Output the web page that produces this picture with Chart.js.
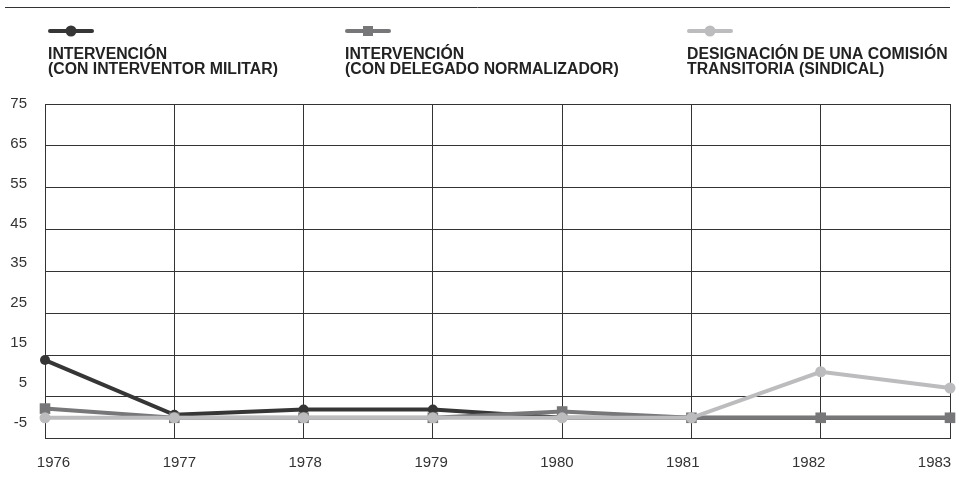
<!DOCTYPE html>
<html>
<head>
<meta charset="utf-8">
<script src="https://cdn.jsdelivr.net/npm/chart.js@4.4.1/dist/chart.umd.min.js"></script>
<style>
  html, body { margin: 0; padding: 0; background: #fff; }
  #wrap { position: relative; width: 959px; height: 486px; }
</style>
</head>
<body>
<div id="wrap"><canvas id="chart"></canvas></div>
<script>
const years = ['1976', '1977', '1978', '1979', '1980', '1981', '1982', '1983'];
const militar = [13.8, 0.7, 2, 2, 0, 0, 0, 0];
const normalizador = [2.2, 0, 0, 0, 1.5, 0, 0, 0];
const comision = [0, 0, 0, 0, 0, 0, 11, 7.1];
const yTicks = [-5, 5, 15, 25, 35, 45, 55, 65, 75];
const legendLines = [
  ['INTERVENCIÓN', '(CON INTERVENTOR MILITAR)'],
  ['INTERVENCIÓN', '(CON DELEGADO NORMALIZADOR)'],
  ['DESIGNACIÓN DE UNA COMISIÓN', 'TRANSITORIA (SINDICAL)']
];

const FONT = '"Liberation Sans", Arial, Helvetica, sans-serif';
const gridColor = '#333';

// legend drawn by hand: line + marker, two bold lines of text under it
const headerPlugin = {
  id: 'header',
  afterDraw(chart) {
    const ctx = chart.ctx;
    const xs = [48, 345, 687];
    ctx.save();
    ctx.strokeStyle = '#333';
    ctx.lineWidth = 1;
    ctx.beginPath();
    ctx.moveTo(5, 7.5);
    ctx.lineTo(950, 7.5);
    ctx.stroke();

    chart.data.datasets.forEach((ds, i) => {
      const x = xs[i];
      ctx.strokeStyle = ds.borderColor;
      ctx.fillStyle = ds.borderColor;
      ctx.lineWidth = 4;
      ctx.lineCap = 'round';
      ctx.beginPath();
      ctx.moveTo(x + 2, 31);
      ctx.lineTo(x + 44, 31);
      ctx.stroke();
      if (ds.pointStyle === 'rect') {
        ctx.fillRect(x + 18, 26, 10, 10);
      } else {
        ctx.beginPath();
        ctx.arc(x + 23, 31, 5.5, 0, Math.PI * 2);
        ctx.fill();
      }
      ctx.fillStyle = '#222';
      ctx.font = 'bold 15.8px ' + FONT;
      ctx.textBaseline = 'alphabetic';
      ctx.fillText(legendLines[i][0], x, 59);
      ctx.fillText(legendLines[i][1], x, 73.5);
    });
    ctx.restore();
  }
};

const ctx = document.getElementById('chart').getContext('2d');
new Chart(ctx, {
  type: 'line',
  data: {
    labels: years,
    datasets: [
      {
        label: legendLines[0].join(' '),
        data: militar,
        borderColor: '#363636',
        backgroundColor: '#363636',
        pointStyle: 'circle',
        pointRadius: 5,
        order: 3
      },
      {
        label: legendLines[1].join(' '),
        data: normalizador,
        borderColor: '#77777a',
        backgroundColor: '#77777a',
        pointStyle: 'rect',
        pointRadius: 7.5,
        order: 2
      },
      {
        label: legendLines[2].join(' '),
        data: comision,
        borderColor: '#bcbcbf',
        backgroundColor: '#bcbcbf',
        pointStyle: 'circle',
        pointRadius: 5.5,
        order: 1
      }
    ].map(d => Object.assign(d, {
      xAxisID: 'x',
      yAxisID: 'y',
      borderWidth: 4,
      tension: 0,
      fill: false,
      clip: false,
      pointBorderWidth: 0,
      pointHoverRadius: d.pointRadius
    }))
  },
  options: {
    responsive: true,
    maintainAspectRatio: false,
    animation: false,
    layout: { padding: { top: 104, right: 9, left: 0, bottom: 0 } },
    plugins: {
      legend: { display: false },
      tooltip: { enabled: false }
    },
    scales: {
      x: {
        type: 'category',
        offset: false,
        grid: { color: gridColor, drawTicks: false },
        border: { color: gridColor },
        ticks: { display: false },
        afterFit: s => { s.height = 0; s.paddingLeft = 0; s.paddingRight = 0; }
      },
      xLabels: {
        type: 'linear',
        position: 'bottom',
        min: -0.0675,
        max: 7.123,
        grid: { display: false, drawTicks: false },
        border: { display: false },
        ticks: {
          autoSkip: false,
          maxRotation: 0,
          padding: 15,
          color: '#333',
          font: { size: 15, family: FONT },
          callback: (v, i) => years[i]
        },
        afterBuildTicks: s => { s.ticks = years.map((_, i) => ({ value: i })); },
        afterFit: s => { s.height = 47.3; s.paddingLeft = 0; s.paddingRight = 0; }
      },
      y: {
        type: 'linear',
        position: 'left',
        min: -5,
        max: 75,
        grid: { color: gridColor, drawTicks: false },
        border: { color: gridColor },
        ticks: { display: false, stepSize: 10 },
        afterFit: s => { s.width = 0; }
      },
      yLabels: {
        type: 'linear',
        position: 'left',
        min: -9.07,
        max: 75,
        grid: { display: false, drawTicks: false },
        border: { display: false },
        ticks: {
          autoSkip: false,
          padding: 18,
          color: '#333',
          font: { size: 15, family: FONT },
          callback: (v, i) => String(yTicks[i])
        },
        afterBuildTicks: s => { s.ticks = yTicks.map(v => ({ value: v })); },
        afterFit: s => { s.width = 45; }
      }
    }
  },
  plugins: [headerPlugin]
});
</script>
</body>
</html>
